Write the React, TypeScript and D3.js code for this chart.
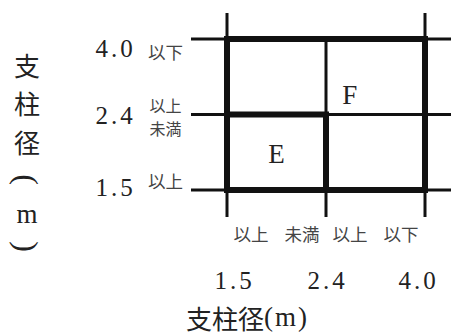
import React from "react";
import * as d3 from "d3";

// ---- data ----
const ticks = ["1.5", "2.4", "4.0"];
const yQualifiers = [["以上"], ["以上", "未満"], ["以下"]];
const xIntervalQualifiers = [
  ["以上", "未満"],
  ["以上", "以下"],
];
const regions = [
  { name: "F", x0: "1.5", x1: "4.0", y0: "1.5", y1: "4.0" },
  { name: "E", x0: "1.5", x1: "2.4", y0: "1.5", y1: "2.4" },
];
const axisTitle = "支柱径";
const axisUnit = "m";

// ---- layout ----
const W = 451;
const H = 336;
const labelAnchor: Record<string, [number, number]> = { F: [0.62, 0.37], E: [0.5, 0.52] };
const SERIF = "'Liberation Serif', 'DejaVu Serif', serif";
const CJK = "'Noto Sans CJK JP', 'Noto Sans', sans-serif";
const INK = "#111";
const TXT = "#222";
const QTXT = "#444";

export default function App() {
  const x = d3.scalePoint<string>().domain(ticks).range([227, 425]);
  const y = d3.scalePoint<string>().domain(ticks).range([190, 39]);
  const last = ticks.length - 1;
  const thin = 3;
  const thick = 6;

  const gridH = ticks.map((t) => (
    <line key={"h" + t} x1={191} x2={W} y1={y(t)} y2={y(t)} stroke={INK} strokeWidth={thin} />
  ));
  const gridV = ticks.map((t, i) => (
    <line
      key={"v" + t}
      x1={x(t)}
      x2={x(t)}
      y1={i === 0 || i === last ? 13 : y(ticks[last])}
      y2={217}
      stroke={INK}
      strokeWidth={thin}
    />
  ));

  const rects = regions.map((r) => {
    const x0 = x(r.x0)!, x1 = x(r.x1)!, y0 = y(r.y1)!, y1 = y(r.y0)!;
    return (
      <rect key={r.name} x={x0} y={y0} width={x1 - x0} height={y1 - y0} fill="none" stroke={INK} strokeWidth={thick} />
    );
  });

  const regionLabels = regions.map((r) => {
    const x0 = x(r.x0)!, x1 = x(r.x1)!, y0 = y(r.y1)!, y1 = y(r.y0)!;
    const [fx, fy] = labelAnchor[r.name];
    return (
      <text key={"l" + r.name} x={x0 + (x1 - x0) * fx} y={y0 + (y1 - y0) * fy} textAnchor="middle"
        dominantBaseline="central" fontFamily={SERIF} fontSize={27} fill={TXT}>
        {r.name}
      </text>
    );
  });

  const numLS = 3;
  const numFS = 25;
  const yNudge = (i: number) => (i === 0 ? -3 : i === last ? 9 : 1);
  const yNums = ticks.map((t, i) => (
    <text key={"yn" + t} x={114 + numLS / 2} y={y(t)! + yNudge(i)} textAnchor="middle" dominantBaseline="central"
      fontFamily={SERIF} fontSize={numFS} letterSpacing={numLS} fill={TXT}>
      {t}
    </text>
  ));
  const qFS = 17.5;
  const qStackFS = 16;
  const qLine = 23.5;
  const yqNudge = (i: number) => (i === 0 ? -10 : i === last ? 12 : 2);
  const yQuals = ticks.map((t, i) => {
    const n = yQualifiers[i].length;
    const base = y(t)! + yqNudge(i) - ((n - 1) / 2) * qLine;
    return (
      <text key={"yq" + t} textAnchor="middle" dominantBaseline="central" fontFamily={CJK}
        fontSize={n > 1 ? qStackFS : qFS} fill={QTXT}>
        {yQualifiers[i].map((q, k) => (
          <tspan key={k} x={165.5} y={base + k * qLine}>{q}</tspan>
        ))}
      </text>
    );
  });

  const xNudge = (i: number) => (i === 0 ? 6 : i === last ? -8 : 0);
  const xNums = ticks.map((t, i) => (
    <text key={"xn" + t} x={x(t)! + xNudge(i) + numLS / 2} y={280} textAnchor="middle" dominantBaseline="central"
      fontFamily={SERIF} fontSize={numFS} letterSpacing={numLS} fill={TXT}>
      {t}
    </text>
  ));
  const inset = 24;
  const xQuals = xIntervalQualifiers.flatMap((pair, i) => [
    <text key={"xqa" + i} x={x(ticks[i])! + inset} y={233} textAnchor="middle" dominantBaseline="central"
      fontFamily={CJK} fontSize={qFS} fill={QTXT}>{pair[0]}</text>,
    <text key={"xqb" + i} x={x(ticks[i + 1])! - inset} y={233} textAnchor="middle" dominantBaseline="central"
      fontFamily={CJK} fontSize={qFS} fill={QTXT}>{pair[1]}</text>,
  ]);

  // vertical y-axis title
  const vx = 27;
  const vStep = 38.5;
  const vTop = 64;
  const vChars = axisTitle.split("");
  const vTitle = [
    ...vChars.map((c, i) => (
      <text key={"vt" + i} x={vx} y={vTop + i * vStep} textAnchor="middle" dominantBaseline="central"
        fontFamily={CJK} fontSize={26} fill={TXT}>{c}</text>
    )),
    <text key="vpo" x={0} y={0} transform={`translate(${vx},${vTop + vChars.length * vStep}) rotate(90)`}
      textAnchor="middle" dominantBaseline="central" fontFamily={SERIF} fontSize={32} fill={TXT}>(</text>,
    <text key="vm" x={vx} y={vTop + (vChars.length + 1) * vStep - 4} textAnchor="middle" dominantBaseline="central"
      fontFamily={SERIF} fontSize={27} fill={TXT}>{axisUnit}</text>,
    <text key="vpc" x={0} y={0} transform={`translate(${vx},${vTop + (vChars.length + 2) * vStep - 10}) rotate(90)`}
      textAnchor="middle" dominantBaseline="central" fontFamily={SERIF} fontSize={32} fill={TXT}>)</text>,
  ];

  const hTitle = (
    <text x={186} y={317} dominantBaseline="central" fill={TXT}>
      <tspan fontFamily={CJK} fontSize={26}>{axisTitle}</tspan>
      <tspan fontFamily={SERIF} fontSize={27} letterSpacing={2}>({axisUnit})</tspan>
    </text>
  );

  return (
    <svg width={W} height={H} style={{ position: "absolute", left: 0, top: 0, background: "#fff" }}>
      <rect width={W} height={H} fill="#fff" />
      {gridH}
      {gridV}
      {rects}
      {regionLabels}
      {yNums}
      {yQuals}
      {xNums}
      {xQuals}
      {vTitle}
      {hTitle}
    </svg>
  );
}
